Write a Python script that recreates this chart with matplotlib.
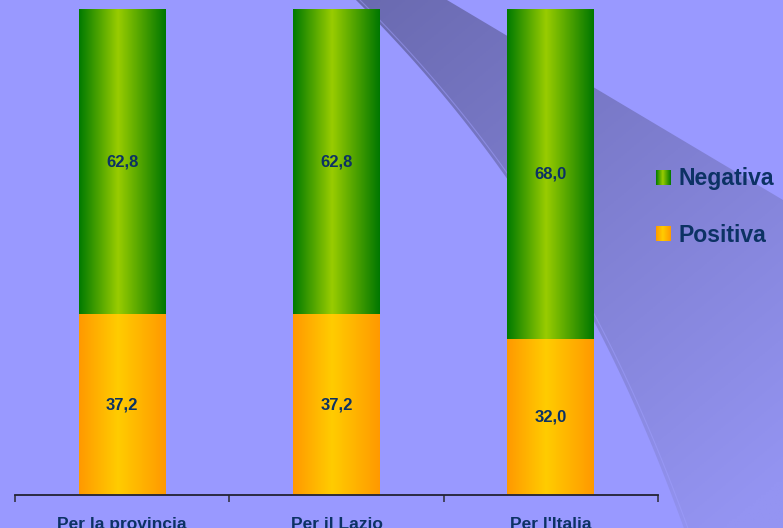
import numpy as np
import matplotlib.pyplot as plt
from matplotlib.colors import LinearSegmentedColormap, to_rgb
from matplotlib.patches import Polygon

# data
categories = ["Per la provincia", "Per il Lazio", "Per l'Italia"]
positiva = [37.2, 37.2, 32.0]
negativa = [62.8, 62.8, 68.0]

W, H = 783, 528
TXT = "#0c3264"
FONT = "Liberation Sans"
green = LinearSegmentedColormap.from_list("g", [(0, "#007a00"), (0.45, "#99cc00"), (1, "#007700")])
orange = LinearSegmentedColormap.from_list("o", [(0, "#ff9900"), (0.45, "#ffcc00"), (1, "#ff9900")])
grad = np.linspace(0, 1, 256).reshape(1, -1)

fig = plt.figure(figsize=(W / 100, H / 100), dpi=100, facecolor="#9999ff")

# background swoosh (decoration), pixel coordinates
bg = fig.add_axes([0, 0, 1, 1])
bg.set_xlim(0, W)
bg.set_ylim(H, 0)
bg.axis("off")
ky = [0, 27, 97, 180, 245, 317, 400, 467, 528]
kx = [357, 380, 447, 507, 550, 593, 630, 663, 683]
cy = np.linspace(0, H, 80)
cx = np.polyval(np.polyfit(ky, kx, 3), cy)
edge = list(zip(cx, cy))
poly = Polygon(edge + [(783, 528), (783, 200), (447, 0)], closed=True,
               facecolor="none", edgecolor="none")
bg.add_patch(poly)
xx, yy = np.meshgrid(np.linspace(0, W, 300), np.linspace(0, H, 200))
t = np.clip(((xx - 357) + 1.2 * yy) / 1000, 0, 1)
c0, c1 = np.array(to_rgb("#6a6ab0")), np.array(to_rgb("#9494f2"))
img = c0 + t[..., None] * (c1 - c0)
im = bg.imshow(img, extent=(0, W, H, 0), aspect="auto", zorder=0)
im.set_clip_path(poly)
bg.plot(cx + 4, cy, color="#a0a0ff", lw=0.8, alpha=0.5)

# legend squares and labels
for name, cmap, yc in [("Negativa", green, 178), ("Positiva", orange, 234)]:
    bg.imshow(grad, cmap=cmap, extent=(656, 671, yc + 7.5, yc - 7.5), aspect="auto", zorder=3)
    bg.text(678, yc + 1, name, color=TXT, fontsize=16.6, fontweight="bold",
            family=FONT, va="center", ha="left")

# main chart
ax = fig.add_axes([15 / W, 33 / H, 643 / W, 486 / H])
ax.set_facecolor("none")
x = np.arange(len(categories))
b1 = ax.bar(x, positiva, width=0.405, color="none")
b2 = ax.bar(x, negativa, bottom=positiva, width=0.405, color="none")
for bars, cmap in [(b1, orange), (b2, green)]:
    for p in bars:
        x0, y0 = p.get_x(), p.get_y()
        ax.imshow(grad, cmap=cmap, aspect="auto", zorder=2,
                  extent=(x0, x0 + p.get_width(), y0, y0 + p.get_height()))
    for p in bars:
        ax.text(p.get_x() + p.get_width() / 2, p.get_y() + p.get_height() / 2,
                f"{p.get_height():.1f}".replace(".", ","), ha="center", va="center",
                color=TXT, fontsize=12, fontweight="bold", family=FONT, zorder=4)

ax.set_xlim(-0.5, len(categories) - 0.5)
ax.set_ylim(0, 100)
for s in ["top", "right", "left"]:
    ax.spines[s].set_visible(False)
ax.spines["bottom"].set_color("#222233")
ax.spines["bottom"].set_linewidth(1.3)
ax.set_yticks([])
ax.set_xticks(np.arange(len(categories) + 1) - 0.5)
ax.set_xticklabels([])
ax.tick_params(axis="x", which="major", length=5, width=1.2, color="#333344")
ax.set_xticks(x, minor=True)
ax.set_xticklabels(categories, minor=True, color=TXT, fontsize=12.5, fontweight="bold",
                   family=FONT)
ax.tick_params(axis="x", which="minor", length=0, pad=16)

fig.savefig("out.png", dpi=100, facecolor=fig.get_facecolor())
